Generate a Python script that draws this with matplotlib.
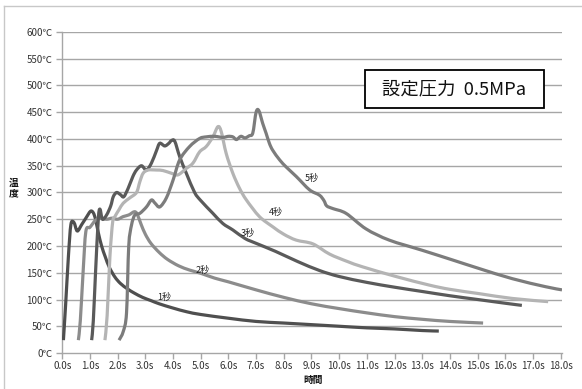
import matplotlib
matplotlib.use("Agg")
import matplotlib.pyplot as plt
import numpy as np
from matplotlib.patches import Rectangle, PathPatch
from matplotlib.path import Path
from matplotlib.lines import Line2D

plt.rcParams['font.family'] = ['Noto Sans CJK JP', 'DejaVu Sans']

# Temperature histories (time [s], temperature [°C]) for each heating duration
t1 = [0.04, 0.12, 0.22, 0.31, 0.42, 0.54, 0.7, 0.85, 1.02, 1.12, 1.2, 1.3, 1.42, 1.55,
      1.7, 1.9, 2.1, 2.35, 2.6, 2.9, 3.2, 3.5, 4.0, 4.5, 5.0, 6.0, 7.0, 8.0, 9.0, 10.0,
      11.0, 12.0, 13.0, 13.6]
T1 = [24, 90, 180, 240, 244, 228, 240, 252, 265, 262, 250, 225, 200, 180,
      160, 142, 130, 120, 112, 104, 98, 92, 84, 77, 72, 65, 59, 56, 53, 50,
      47, 45, 42, 41]

t2 = [0.58, 0.65, 0.75, 0.85, 1.0, 1.2, 1.4, 1.6, 1.8, 2.0, 2.2, 2.4, 2.6, 2.7, 2.85,
      3.0, 3.2, 3.5, 3.8, 4.2, 4.6, 5.0, 5.5, 6.0, 7.0, 8.0, 9.0, 10.0, 11.0, 12.0,
      13.0, 14.0, 15.2]
T2 = [24, 60, 150, 227, 235, 248, 252, 250, 252, 250, 255, 258, 264, 260, 240,
      222, 205, 188, 175, 163, 155, 149, 140, 133, 118, 104, 92, 83, 75, 68,
      63, 59, 56]

t3 = [1.06, 1.12, 1.2, 1.3, 1.36, 1.45, 1.6, 1.75, 1.84, 1.96, 2.1, 2.22, 2.38, 2.55,
      2.68, 2.86, 3.04, 3.22, 3.4, 3.52, 3.7, 3.85, 3.94, 4.06, 4.24, 4.48, 4.78, 5.0,
      5.44, 5.8, 6.16, 6.6, 7.0, 7.7, 8.5, 9.3, 10.0, 11.0, 12.0, 13.0, 14.0, 15.0,
      16.0, 16.6]
T3 = [24, 60, 150, 250, 269, 250, 258, 275, 292, 300, 296, 292, 308, 330,
      342, 350, 342, 355, 378, 392, 387, 392, 397, 396, 367, 336, 300, 285,
      261, 242, 230, 214, 205, 190, 171, 154, 143, 132, 123, 115, 107, 100,
      93, 89]

t4 = [1.54, 1.62, 1.72, 1.82, 1.9, 2.05, 2.2, 2.44, 2.68, 2.8, 2.92, 3.1, 3.4, 3.64,
      3.94, 4.18, 4.48, 4.72, 4.96, 5.2, 5.44, 5.62, 5.74, 5.92, 6.16, 6.4, 6.65, 7.12,
      7.6, 8.0, 8.45, 9.05, 9.65, 10.3, 10.85, 12.05, 13.25, 14.0, 15.05, 16.25, 17.55]
T4 = [24, 70, 180, 245, 255, 268, 280, 290, 300, 320, 336, 342, 342, 341,
      336, 333, 345, 355, 376, 386, 404, 423, 414, 373, 336, 308, 286, 255,
      236, 222, 211, 204, 185, 171, 161, 143, 127, 119, 111, 102, 96]

t5 = [2.05, 2.2, 2.32, 2.4, 2.5, 2.62, 2.8, 3.04, 3.22, 3.35, 3.52, 3.76, 4.0, 4.24,
      4.6, 4.96, 5.2, 5.5, 5.8, 6.0, 6.16, 6.29, 6.45, 6.6, 6.75, 6.88, 7.0, 7.1, 7.24,
      7.36, 7.48, 7.6, 7.85, 8.1, 8.45, 8.93, 9.29, 9.45, 9.55, 9.77, 10.25, 10.97,
      11.81, 13.0, 14.09, 15.05, 16.25, 17.45, 18.05]
T5 = [24, 40, 75, 200, 239, 258, 261, 273, 286, 280, 273, 290, 323, 361,
      386, 401, 404, 405, 403, 405, 404, 399, 405, 402, 406, 411, 450, 453, 429,
      411, 392, 379, 361, 347, 330, 305, 295, 285, 275, 270, 261, 232,
      211, 192, 174, 158, 139, 124, 118]

series = [(t1, T1, '#4f4f4f'), (t2, T2, '#8c8c8c'), (t3, T3, '#5a5a5a'),
          (t4, T4, '#b4b4b4'), (t5, T5, '#7c7c7c')]

curve_labels = ['1秒', '2秒', '3秒', '4秒', '5秒']
label_pos = [(3.7, 103), (5.07, 155), (6.7, 224), (7.7, 262), (9.0, 327)]

y_ticks = list(range(0, 601, 50))
x_ticks = [i * 1.0 for i in range(19)]


def smooth_path(xs, ys, k=0.16):
    """Smoothed line through the points (Catmull-Rom style cubic Bezier segments)."""
    p = np.column_stack([xs, ys]).astype(float)
    n = len(p)
    verts = [p[0]]
    codes = [Path.MOVETO]
    for i in range(n - 1):
        p0 = p[i - 1] if i > 0 else p[i]
        p1, p2 = p[i], p[i + 1]
        p3 = p[i + 2] if i + 2 < n else p[i + 1]
        c1 = p1 + (p2 - p0) * k
        c2 = p2 - (p3 - p1) * k
        verts += [c1, c2, p2]
        codes += [Path.CURVE4] * 3
    return Path(verts, codes)


fig = plt.figure(figsize=(5.82, 3.89), dpi=100)
fig.patch.set_facecolor('white')
W, H = 582, 389

ax = fig.add_axes([62.3 / W, 1 - 353 / H, (562 - 62.3) / W, (353 - 32) / H])
ax.set_xlim(0, 18.05)
ax.set_ylim(0, 600)

grid_c = '#a6a6a6'
for y in y_ticks[1:]:
    ax.axhline(y, color=grid_c, lw=1.0, zorder=1)

for t, T, c in series:
    ax.add_patch(PathPatch(smooth_path(t, T), facecolor='none', edgecolor=c, lw=2.3,
                           joinstyle='round', capstyle='butt', zorder=3))

for txt, (x, y) in zip(curve_labels, label_pos):
    ax.text(x, y, txt, fontsize=6.5, ha='center', va='center', color='#222222', zorder=4)

ax.set_yticks(y_ticks)
ax.set_yticklabels([f'{v}℃' for v in y_ticks])
ax.set_xticks(x_ticks)
ax.set_xticklabels([f'{v:.1f}s' for v in x_ticks])
ax.tick_params(axis='both', labelsize=7, colors=grid_c, labelcolor='#333333',
               length=4, width=1.0, direction='out')
ax.tick_params(axis='y', pad=3)
ax.tick_params(axis='x', pad=2)

for side in ['top', 'right']:
    ax.spines[side].set_visible(False)
ax.spines['left'].set_color(grid_c)
ax.spines['bottom'].set_color(grid_c)
ax.spines['left'].set_linewidth(1.0)
ax.spines['bottom'].set_linewidth(1.0)

# Axis titles (vertical title written as stacked characters)
fig.text(313 / W, 1 - 380 / H, '時間', fontsize=7, fontweight='bold',
         ha='center', va='center', color='#111111')
for ch, yp in zip('温度', [182.5, 193.5]):
    fig.text(14 / W, 1 - yp / H, ch, fontsize=7, fontweight='bold',
             ha='center', va='center', color='#111111')

# Condition box
fig.patches.append(Rectangle((365 / W, 1 - 108 / H), (544 - 365) / W, (108 - 70) / H,
                             transform=fig.transFigure, facecolor='white',
                             edgecolor='black', lw=1.3, zorder=5))
fig.text(454.5 / W, 1 - 89.5 / H, '設定圧力  0.5MPa', fontsize=13.2,
         ha='center', va='center', color='#111111', zorder=6)

# Outer frame (top and left edges)
fig.lines.append(Line2D([4 / W, 1], [1 - 6 / H, 1 - 6 / H], transform=fig.transFigure,
                        color='#c8c8c8', lw=1.0))
fig.lines.append(Line2D([4 / W, 4 / W], [0, 1 - 6 / H], transform=fig.transFigure,
                        color='#c8c8c8', lw=1.0))

fig.savefig('out.png', dpi=100, facecolor='white')
